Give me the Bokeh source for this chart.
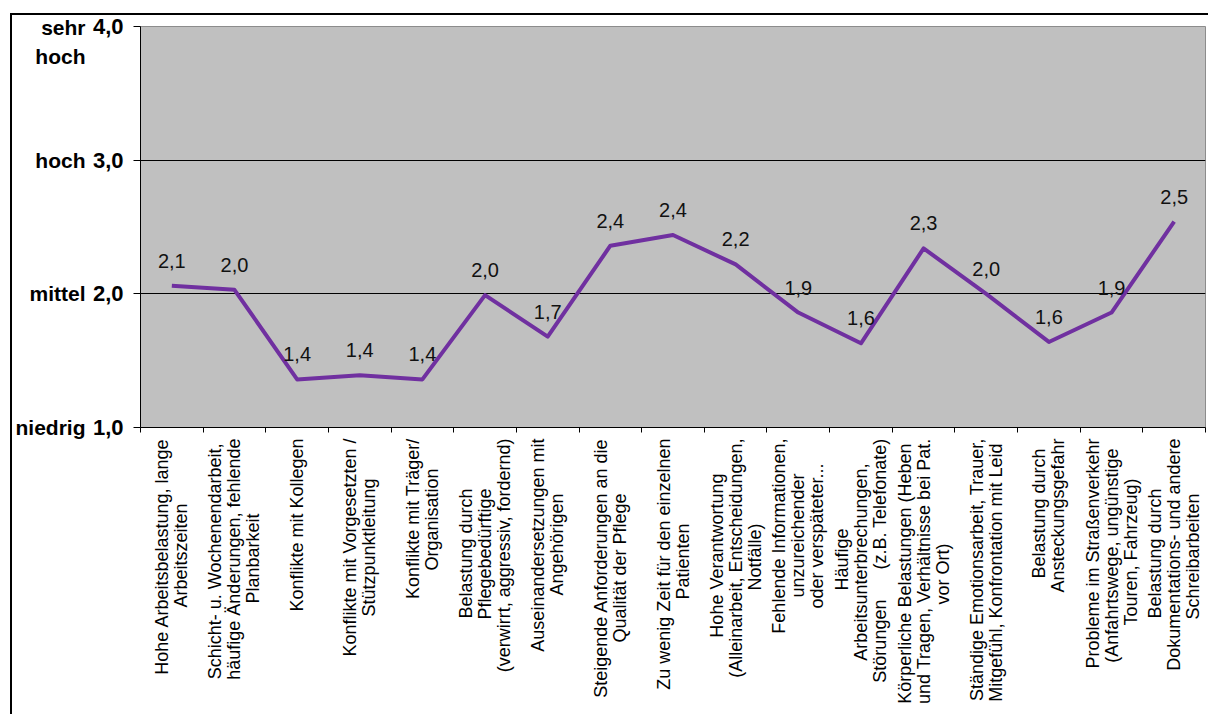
import math
import re
from bokeh.plotting import figure
from bokeh.models import (FactorRange, Range1d, LinearAxis, CategoricalAxis, FixedTicker,
                          ColumnDataSource, LabelSet, CustomJSTickFormatter)
from bokeh.core.properties import value
from bokeh.embed import file_html
from bokeh.resources import INLINE

# ---------------- data ----------------
categories = [
    "Hohe Arbeitsbelastung, lange\nArbeitszeiten",
    "Schicht- u. Wochenendarbeit,\nhäufige Änderungen, fehlende\nPlanbarkeit",
    "Konflikte mit Kollegen",
    "Konflikte mit Vorgesetzten /\nStützpunktleitung",
    "Konflikte mit Träger/\nOrganisation",
    "Belastung durch\nPflegebedürftige\n(verwirrt, aggressiv, fordernd)",
    "Auseinandersetzungen mit\nAngehörigen",
    "Steigende Anforderungen an die\nQualität der Pflege",
    "Zu wenig Zeit für den einzelnen\nPatienten",
    "Hohe Verantwortung\n(Alleinarbeit, Entscheidungen,\nNotfälle)",
    "Fehlende Informationen,\nunzureichender\noder verspäteter...",
    "Häufige\nArbeitsunterbrechungen,\nStörungen      (z.B. Telefonate)",
    "Körperliche Belastungen (Heben\nund Tragen, Verhältnisse bei Pat.\nvor Ort)",
    "Ständige Emotionsarbeit, Trauer,\nMitgefühl, Konfrontation mit Leid",
    "Belastung durch\nAnsteckungsgefahr",
    "Probleme im Straßenverkehr\n(Anfahrtswege, ungünstige\nTouren, Fahrzeug)",
    "Belastung durch\nDokumentations- und andere\nSchreibarbeiten",
]
values = [2.06, 2.03, 1.36, 1.39, 1.36, 1.99, 1.68, 2.36, 2.44, 2.22,
          1.86, 1.63, 2.34, 2.00, 1.64, 1.86, 2.54]
y_ticks = [1, 2, 3, 4]
y_tick_labels = ["1,0", "2,0", "3,0", "4,0"]
level_names = ["niedrig", "mittel", "hoch", "sehr\nhoch"]

FONT = "Liberation Sans"
NBSP = "\u00a0"

# approximate Arial advance widths (1/1000 em), used to centre the lines of the
# rotated category labels (the axis aligns multi-line labels at their end)
_W = {' ': 278, NBSP: 278, ',': 278, '.': 278, '-': 333, '/': 278, '(': 333, ')': 333,
      'a': 556, 'b': 556, 'c': 500, 'd': 556, 'e': 556, 'f': 278, 'g': 556, 'h': 556,
      'i': 222, 'j': 222, 'k': 500, 'l': 222, 'm': 833, 'n': 556, 'o': 556, 'p': 556,
      'q': 556, 'r': 333, 's': 500, 't': 278, 'u': 556, 'v': 500, 'w': 722, 'x': 500,
      'y': 500, 'z': 500, 'ä': 556, 'ö': 556, 'ü': 556, 'ß': 611,
      'A': 667, 'B': 667, 'C': 722, 'D': 722, 'E': 667, 'F': 611, 'G': 778, 'H': 722,
      'I': 278, 'J': 500, 'K': 667, 'L': 556, 'M': 833, 'N': 722, 'O': 778, 'P': 667,
      'Q': 778, 'R': 722, 'S': 667, 'T': 611, 'U': 722, 'V': 667, 'W': 944, 'X': 667,
      'Y': 667, 'Z': 611, 'Ä': 667, 'Ö': 778, 'Ü': 722}


def _line_w(s):
    return sum(_W.get(c, 556) for c in s)


def centred(label):
    lines = [re.sub(r" {2,}", lambda m: NBSP * len(m.group()), ln) for ln in label.split("\n")]
    widths = [_line_w(ln) for ln in lines]
    mw = max(widths)
    return "\n".join(ln + NBSP * int(round((mw - w) / 2 / 278)) for ln, w in zip(lines, widths))


# ---------------- figure ----------------
p = figure(width=1198, height=701,
           x_range=FactorRange(factors=categories, range_padding=0),
           y_range=Range1d(y_ticks[0], y_ticks[-1]),
           x_axis_type=None, output_backend="svg", toolbar_location=None,
           min_border_left=128, min_border_right=5, min_border_top=11, min_border_bottom=289)
p.styles = {"margin-left": "10px", "margin-top": "13px",
            "border-top": "2px solid black", "border-left": "2px solid black"}

p.background_fill_color = "#C0C0C0"
p.border_fill_color = "white"
p.outline_line_color = "#8c8c8c"
p.outline_line_width = 1

# y axis with values
p.yaxis.ticker = FixedTicker(ticks=y_ticks)
p.yaxis.major_label_overrides = dict(zip(y_ticks, y_tick_labels))
p.yaxis.major_tick_out = 7
p.yaxis.major_tick_in = 0
p.yaxis.minor_tick_out = 0
p.yaxis.minor_tick_in = 0
p.yaxis.axis_line_color = "black"
p.yaxis.major_tick_line_color = "black"
p.yaxis.major_label_standoff = 10
p.yaxis.major_label_text_font = FONT
p.yaxis.major_label_text_font_style = "bold"
p.yaxis.major_label_text_font_size = "22px"
p.yaxis.major_label_text_color = "black"

# outer y axis with the level names
lvl_axis = LinearAxis(ticker=FixedTicker(ticks=y_ticks),
                      major_label_overrides=dict(zip(y_ticks, level_names)),
                      axis_line_color=None, major_tick_line_color=None,
                      major_tick_out=0, major_tick_in=0, minor_tick_out=0, minor_tick_in=0,
                      major_label_standoff=4,
                      major_label_text_font=FONT, major_label_text_font_style="bold",
                      major_label_text_font_size="21px", major_label_text_color="black",
                      major_label_text_line_height=1.3)
p.add_layout(lvl_axis, "left")

p.ygrid.ticker = FixedTicker(ticks=y_ticks[1:-1])
p.ygrid.grid_line_color = "black"
p.ygrid.grid_line_width = 1

# x axis: tick marks on the boundaries between categories
xa = LinearAxis(ticker=FixedTicker(ticks=list(range(len(categories) + 1))),
                major_tick_out=5, major_tick_in=0, minor_tick_out=0, minor_tick_in=0,
                axis_line_color="black", major_tick_line_color="black",
                major_label_text_color=None, major_label_standoff=0)
p.add_layout(xa, "below")

# category names (rotated, reading upwards, lines centred)
display = [centred(c) for c in categories]
fmt = CustomJSTickFormatter(args=dict(keys=categories, labels=display),
                            code="const i = keys.indexOf(tick); return i >= 0 ? labels[i] : tick;")
ca = CategoricalAxis(major_label_orientation=math.pi / 2, formatter=fmt,
                     axis_line_color=None, major_tick_line_color=None,
                     major_tick_out=0, major_tick_in=0,
                     major_label_standoff=6,
                     major_label_text_font=FONT, major_label_text_font_size="18px",
                     major_label_text_color="black", major_label_text_line_height=0.95)
p.add_layout(ca, "below")

# data line
src = ColumnDataSource(dict(cat=categories, val=values,
                            txt=[f"{v:.1f}".replace(".", ",") for v in values]))
p.line(x="cat", y="val", source=src, line_color="#7030A0", line_width=4, line_join="round")

p.add_layout(LabelSet(x="cat", y="val", text="txt", source=src, y_offset=18,
                      text_align="center", text_baseline="alphabetic",
                      text_font=value(FONT), text_font_size="20px", text_color="#111111"))

open("out.html", "w").write(file_html(p, INLINE))
